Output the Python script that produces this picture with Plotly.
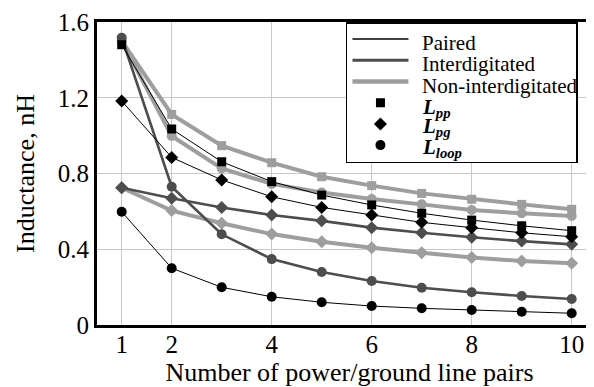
import plotly.graph_objects as go

# ---------------- data ----------------
pairs = [1, 2, 3, 4, 5, 6, 7, 8, 9, 10]

paired_lpp   = [1.48, 1.035, 0.862, 0.757, 0.686, 0.634, 0.590, 0.554, 0.524, 0.498]
paired_lpg   = [1.183, 0.885, 0.766, 0.677, 0.621, 0.581, 0.542, 0.514, 0.487, 0.466]
paired_lloop = [0.598, 0.300, 0.199, 0.149, 0.120, 0.100, 0.088, 0.079, 0.070, 0.062]

inter_lpg    = [0.725, 0.669, 0.620, 0.581, 0.550, 0.514, 0.487, 0.463, 0.443, 0.426]
inter_lloop  = [1.517, 0.730, 0.479, 0.348, 0.280, 0.232, 0.197, 0.173, 0.153, 0.137]

non_lpp      = [1.50, 1.112, 0.947, 0.857, 0.783, 0.736, 0.695, 0.664, 0.637, 0.611]
non_lpg      = [0.725, 0.604, 0.537, 0.480, 0.440, 0.408, 0.382, 0.357, 0.338, 0.326]
non_lloop    = [1.50, 0.998, 0.827, 0.745, 0.700, 0.665, 0.637, 0.607, 0.590, 0.576]

x_tickvals = [1, 2, 4, 6, 8, 10]
y_tickvals = [0, 0.4, 0.8, 1.2, 1.6]
y_ticktext = ["0", "0.4", "0.8", "1.2", "1.6"]

legend_labels = ["Paired", "Interdigitated", "Non-interdigitated",
                 "<b><i>L</i></b><sub><b><i>pp</i></b></sub>",
                 "<b><i>L</i></b><sub><b><i>pg</i></b></sub>",
                 "<b><i>L</i></b><sub><b><i>loop</i></b></sub>"]

# ---------------- styles ----------------
BLACK = "#000000"
DARK = "#4d4d4d"
LIGHT = "#9e9e9e"
FONT = "'Liberation Serif', 'Times New Roman', 'DejaVu Serif', serif"

styles = {
    "paired": dict(color=BLACK, width=1),
    "inter": dict(color=DARK, width=2.6),
    "non": dict(color=LIGHT, width=4),
}
sym = {"pp": ("square", 9), "pg": ("diamond", 10), "loop": ("circle", 10)}

series = [
    ("non", "pp", non_lpp),
    ("non", "loop", non_lloop),
    ("non", "pg", non_lpg),
    ("inter", "pg", inter_lpg),
    ("inter", "loop", inter_lloop),
    ("paired", "pp", paired_lpp),
    ("paired", "pg", paired_lpg),
    ("paired", "loop", paired_lloop),
]

fig = go.Figure()
for cfg, kind, vals in series:
    st = styles[cfg]
    s, sz = sym[kind]
    fig.add_trace(go.Scatter(
        x=pairs, y=vals, mode="lines+markers", showlegend=False,
        line=dict(color=st["color"], width=st["width"]),
        marker=dict(symbol=s, size=sz, color=st["color"], line=dict(width=0)),
        hoverinfo="skip",
    ))

# legend symbols (text is drawn as serif annotations on top of the legend box)
PAD = "&nbsp;" * 45
for cfg in ["paired", "inter", "non"]:
    st = styles[cfg]
    fig.add_trace(go.Scatter(x=[None], y=[None], mode="lines", name=PAD,
                             line=dict(color=st["color"], width=st["width"] + 0.5)))
for kind in ["pp", "pg", "loop"]:
    s, sz = sym[kind]
    fig.add_trace(go.Scatter(x=[None], y=[None], mode="markers", name=PAD,
                             marker=dict(symbol=s, size=sz, color=BLACK)))

# legend text rows (paper coordinates)
row_y = [0.930, 0.860, 0.790, 0.717, 0.652, 0.584]
for label, yy in zip(legend_labels, row_y):
    fig.add_annotation(text=label, xref="paper", yref="paper", x=0.640, y=yy,
                       xanchor="left", yanchor="middle", showarrow=False,
                       font=dict(family=FONT, size=21, color="black"))

# page body has an 8px margin: figure origin sits at page (8, 8)
fig.update_layout(
    width=594, height=387,
    margin=dict(l=89, r=0, t=14, b=70, autoexpand=False),
    paper_bgcolor="white", plot_bgcolor="white",
    font=dict(family=FONT, size=25, color="black"),
    legend=dict(
        x=0.493, xanchor="left", y=1, yanchor="top",
        bgcolor="white", bordercolor="black", borderwidth=1.5,
        font=dict(size=14, color="black"),
        tracegroupgap=0, itemwidth=56,
    ),
)
fig.update_xaxes(
    range=[0.506, 10.606], tickvals=x_tickvals,
    showgrid=True, gridcolor="#c8c8c8", gridwidth=1,
    showline=True, linecolor="black", linewidth=3, mirror=True,
    ticks="", zeroline=False, ticklabelstandoff=-5,
    tickfont=dict(family=FONT, size=25),
    title=dict(text="Number of power/ground line pairs", font=dict(family=FONT, size=26), standoff=2),
)
fig.update_yaxes(
    range=[0, 1.6], tickvals=y_tickvals, ticktext=y_ticktext,
    showgrid=True, gridcolor="#c8c8c8", gridwidth=1,
    showline=True, linecolor="black", linewidth=3,
    ticks="", zeroline=False,
    tickfont=dict(family=FONT, size=25),
    title=dict(text="Inductance, nH", font=dict(family=FONT, size=26), standoff=16),
)

fig.write_html("out.html")
